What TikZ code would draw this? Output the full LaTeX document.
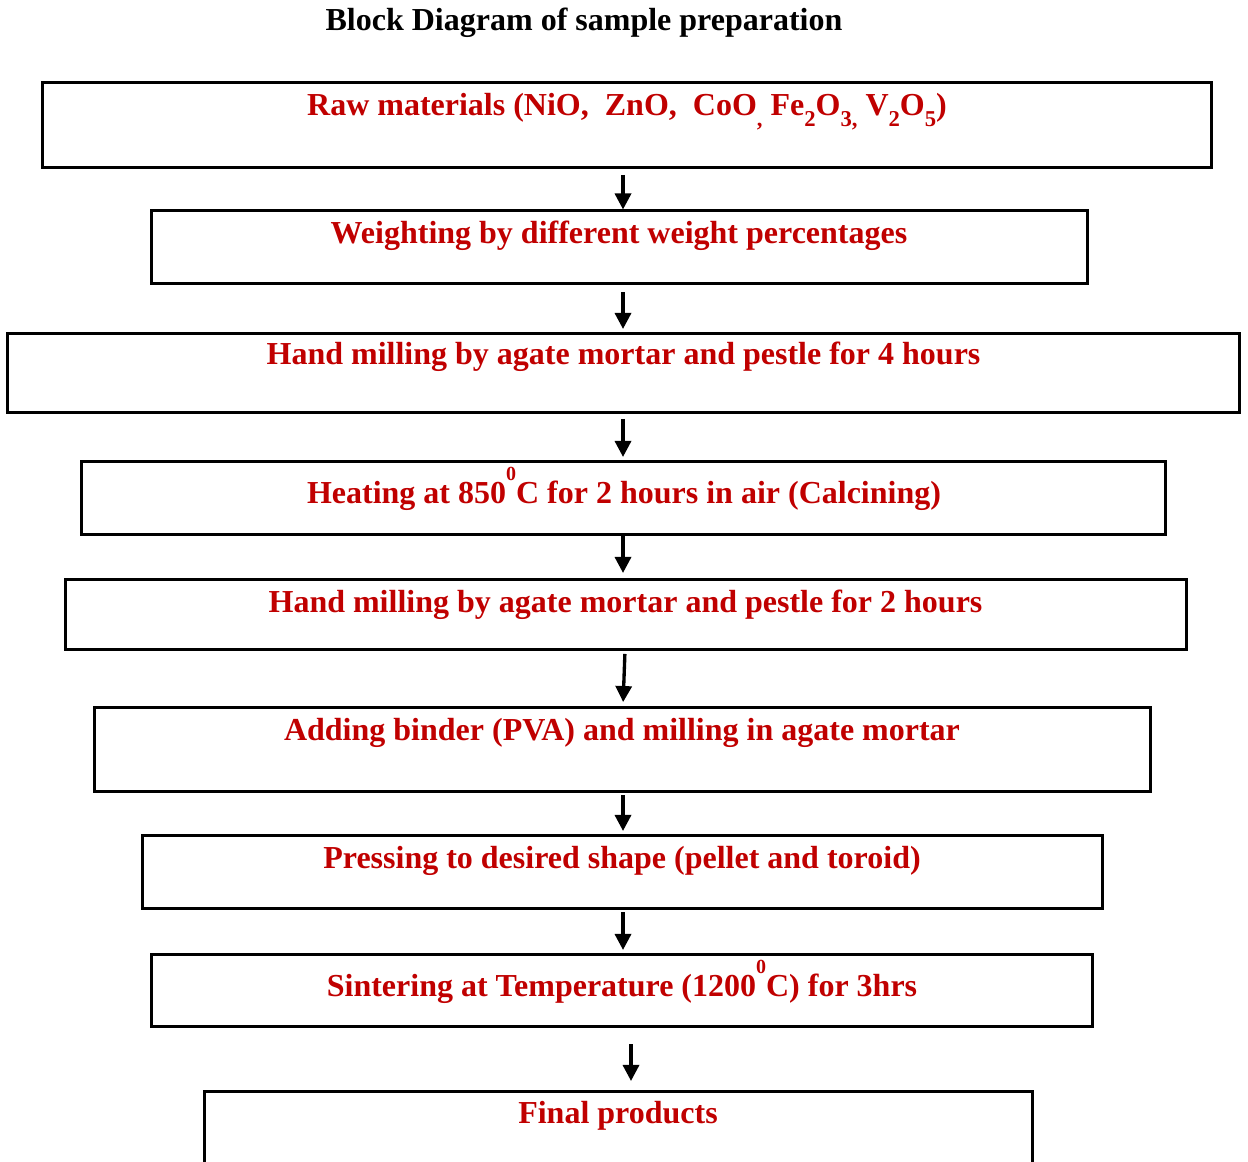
\documentclass[tikz,border=0pt]{standalone}
\usepackage{fontspec}
\setmainfont{Liberation Serif}
\usetikzlibrary{arrows.meta}
\definecolor{stepred}{RGB}{192,0,0}
\newcommand\tempsup[1]{\raisebox{17pt}{\fontsize{15}{15}\selectfont #1}}
\newcommand\tempsub[1]{\raisebox{-8pt}{\fontsize{17}{17}\selectfont #1}}
\tikzset{every picture/.style={line width=0.75pt}}
\tikzset{
  stepbox/.style={draw, line width=2.25pt, inner sep=0pt},
  steptext/.style={anchor=base, inner sep=0.75pt, text=stepred, font=\bfseries\fontsize{24}{28}\selectfont},
  titletext/.style={anchor=base, inner sep=0.75pt, font=\bfseries\fontsize{24}{28}\selectfont},
  flowarrow/.style={line width=2.5pt, -{Triangle[width=12pt,length=12pt]}},
}

\begin{document}
\begin{tikzpicture}[x=0.75pt,y=0.75pt,yscale=-1,xscale=1]
\clip (0,0) rectangle (1248,1162);
\coordinate (axis) at (623,0);

% Text Node
\node[titletext] (title) at (584,31) {Block Diagram of sample preparation};

%Shape: Rectangle
\node[stepbox, minimum width=1169*0.75pt, minimum height=85*0.75pt] (raw) at (626.5,125.5) {};
\node[stepbox, minimum width=936*0.75pt, minimum height=73*0.75pt] (weigh) at (619,247.5) {};
\node[stepbox, minimum width=1232*0.75pt, minimum height=79*0.75pt] (millfour) at (623.5,372.5) {};
\node[stepbox, minimum width=1084*0.75pt, minimum height=73*0.75pt] (heat) at (623,497.5) {};
\node[stepbox, minimum width=1121*0.75pt, minimum height=70*0.75pt] (milltwo) at (625.5,614) {};
\node[stepbox, minimum width=1056*0.75pt, minimum height=84*0.75pt] (binder) at (622,749) {};
\node[stepbox, minimum width=960*0.75pt, minimum height=73*0.75pt] (press) at (622,871.5) {};
\node[stepbox, minimum width=941*0.75pt, minimum height=72*0.75pt] (sinter) at (621.5,990) {};
\node[stepbox, minimum width=828*0.75pt, minimum height=99*0.75pt] (final) at (618,1140.5) {};

% Text Node
\node[steptext] (rawtxt) at (627,116) {Raw materials (NiO,\ \ ZnO,\ \ CoO\tempsub{,} Fe\tempsub{2}O\tempsub{3,} V\tempsub{2}O\tempsub{5})};
\node[steptext] (weightxt) at (619,244) {Weighting by different weight percentages};
\node[steptext] (millfourtxt) at (623.5,364) {Hand milling by agate mortar and pestle for 4 hours};
\node[steptext] (heattxt) at (624,503) {Heating at 850\tempsup{0}C for 2 hours in air (Calcining)};
\node[steptext] (milltwotxt) at (625.5,612) {Hand milling by agate mortar and pestle for 2 hours};
\node[steptext] (bindertxt) at (622,740) {Adding binder (PVA) and milling in agate mortar};
\node[steptext] (presstxt) at (622,868) {Pressing to desired shape (pellet and toroid)};
\node[steptext] (sintertxt) at (622,996) {Sintering at Temperature (1200\tempsup{0}C) for 3hrs};
\node[steptext] (finaltxt) at (618,1123) {Final products};

%Straight Lines
\draw[flowarrow, shorten <=4.1pt] (raw.south -| axis) -- (weigh.north -| axis);
\draw[flowarrow, shorten <=4.9pt, shorten >=1.9pt] (weigh.south -| axis) -- (millfour.north -| axis);
\draw[flowarrow, shorten <=4.1pt, shorten >=1.9pt] (millfour.south -| axis) -- (heat.north -| axis);
\draw[flowarrow, shorten >=3.4pt] (heat.south -| axis) -- (milltwo.north -| axis);
\draw[flowarrow, shorten <=2.6pt, shorten >=2.6pt] ([xshift=1.5pt]milltwo.south -| axis) -- (binder.north -| axis);
\draw[flowarrow, shorten <=1.9pt, shorten >=1.9pt] (binder.south -| axis) -- (press.north -| axis);
\draw[flowarrow, shorten <=1.9pt, shorten >=1.9pt] (press.south -| axis) -- (sinter.north -| axis);
\draw[flowarrow, shorten <=12.4pt, shorten >=6.4pt] ([xshift=6pt]sinter.south -| axis) -- ([xshift=6pt]final.north -| axis);

\end{tikzpicture}
\end{document}
